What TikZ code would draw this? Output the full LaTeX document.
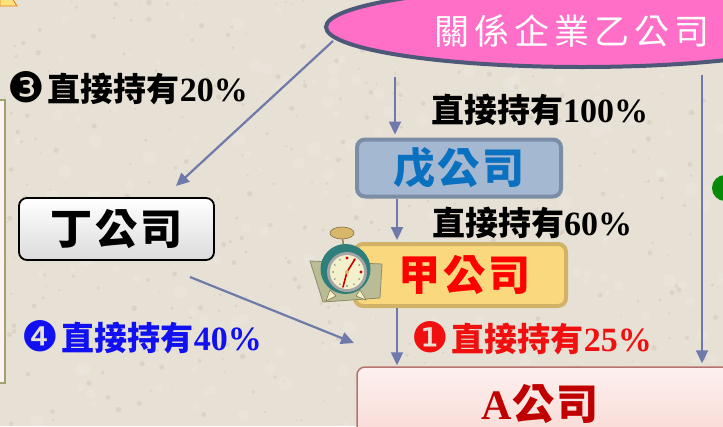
\documentclass[tikz,border=0pt]{standalone}
\usepackage{fontspec}
\usetikzlibrary{arrows.meta,shapes.geometric,calc}
\newfontfamily\cjk{Noto Sans CJK TC}
\newfontfamily\numfont{Liberation Serif}
\newfontfamily\dings{DejaVu Sans}

\definecolor{bgc}{HTML}{E7E0D4}
\definecolor{speck}{HTML}{CDC4B4}
\definecolor{arrowc}{HTML}{6E7AAB}
\definecolor{pinkfill}{HTML}{FF6EC7}
\definecolor{ellline}{HTML}{4E5878}
\definecolor{wufill}{HTML}{A4B8D2}
\definecolor{wuline}{HTML}{7C8DA6}
\definecolor{wutext}{HTML}{0A70C0}
\definecolor{jiafill}{HTML}{FAD97E}
\definecolor{jialine}{HTML}{D2B266}
\definecolor{aline}{HTML}{B5756E}
\definecolor{atop}{HTML}{FDF1EF}
\definecolor{abot}{HTML}{F5CBC4}
\definecolor{atext}{HTML}{C00000}
\definecolor{olive}{HTML}{9EA56A}
\definecolor{teal}{HTML}{2E7F7A}
\definecolor{padc}{HTML}{B9BC94}
\definecolor{padline}{HTML}{8A8C6A}
\definecolor{bellc}{HTML}{D9B76A}
\definecolor{facec}{HTML}{F3F0CC}
\definecolor{markgreen}{HTML}{078A07}
\definecolor{lblblue}{HTML}{1010F0}
\definecolor{lblred}{HTML}{F01010}

\tikzset{
  flow/.style={draw=arrowc, line width=2.2pt, -{Triangle[length=13pt,width=12pt]}},
  lbl/.style={inner sep=0pt, anchor=west},
  boxtext/.style={font=\cjk\bfseries\fontsize{42}{42}\selectfont},
  company/.style={rounded corners=8pt, inner sep=0pt}
}

% one percentage label: marker, Chinese words, number
\newcommand{\holdword}{{\cjk\bfseries\fontsize{33}{33}\selectfont 直接持有}}
\newcommand{\holding}[2]{\raisebox{-1pt}{\dings\fontsize{42}{42}\selectfont #1}\hspace{3pt}\holdword{\numfont\bfseries\fontsize{34}{34}\selectfont #2}}
\newcommand{\plainholding}[1]{\holdword{\numfont\bfseries\fontsize{34}{34}\selectfont #1}}

\begin{document}
\begin{tikzpicture}[x=1pt,y=-1pt]
\useasboundingbox (0,0) rectangle (723,426);
\clip (0,0) rectangle (723,426);

% paper background with a fine mottled texture
\fill[bgc] (0,0) rectangle (723,426);
\pgfmathsetseed{11}
\foreach \i in {1,...,420}{
  \pgfmathsetmacro{\px}{rnd*723}
  \pgfmathsetmacro{\py}{rnd*426}
  \pgfmathsetmacro{\pr}{0.6+rnd*2.2}
  \fill[speck, opacity=0.45] (\px,\py) circle [radius=\pr pt];
}
\foreach \i in {1,...,200}{
  \pgfmathsetmacro{\px}{rnd*723}
  \pgfmathsetmacro{\py}{rnd*426}
  \pgfmathsetmacro{\pr}{2+rnd*5}
  \fill[white, opacity=0.12] (\px,\py) circle [radius=\pr pt];
}

% corner pieces of neighbouring shapes
\fill[yellow!60!orange!50, draw=orange!60!brown, line width=0.8pt] (0,-2) -- (12,-2) -- (17,6) -- (0,6) -- cycle;
\draw[olive, line width=2.5pt, fill=red!5] (-20,100) rectangle (5,383);
\fill[markgreen] (725,188) circle [radius=13pt];

% parent company
\node[ellipse, draw=ellline, line width=4pt, fill=pinkfill, minimum width=512pt, minimum height=80pt, inner sep=0pt] (yi) at (582,27) {};
\node[inner sep=0pt, text=white, font=\cjk\fontsize{35}{35}\selectfont, anchor=west] (yiname) at (434,31) {關\hspace{5pt}係\hspace{5pt}企\hspace{5pt}業\hspace{5pt}乙\hspace{5pt}公\hspace{5pt}司};

% subsidiaries
\node[company, draw=wuline, line width=4pt, fill=wufill, minimum width=204pt, minimum height=57pt, boxtext, text=wutext] (wu) at (459,168) {戊\hspace{3pt}公\hspace{3pt}司};
\node[company, draw=jialine, line width=4pt, fill=jiafill, minimum width=211pt, minimum height=62pt, boxtext, text=red] (jia) at (460.5,275) {\hspace{8pt}甲\hspace{3pt}公\hspace{3pt}司};
\node[company, draw=black, line width=1.8pt, top color=white, bottom color=black!14, minimum width=195pt, minimum height=62pt, boxtext, text=black] (ding) at (116.5,229) {丁\hspace{3pt}公\hspace{3pt}司};
\node[company, draw=aline, line width=1.5pt, top color=atop, bottom color=abot, minimum width=400pt, minimum height=120pt] (abox) at (557,427) {};
\node[inner sep=0pt, text=atext, font=\fontsize{42}{42}\selectfont] (aname) at (540,404) {{\numfont\bfseries A}{\cjk\bfseries 公\hspace{2pt}司}};

% alarm clock on the 甲 box
\fill[padc, draw=padline, line width=0.8pt] (310,261) -- (382,264) -- (380,298) -- (323,302) -- cycle;
\draw[bellc!70!black, line width=1.5pt] (342,236) -- (344,248);
\fill[bellc, draw=bellc!60!black, line width=0.6pt] (342,233) ellipse [x radius=12pt, y radius=6pt];
\fill[facec, draw=bellc!60!black, line width=0.5pt] (330,290) -- (326,301) -- (336,296) -- cycle;
\fill[facec, draw=bellc!60!black, line width=0.5pt] (360,290) -- (366,300) -- (356,296) -- cycle;
\fill[teal] (345.5,269) circle [radius=25pt];
\fill[gray!70] (347,272) circle [radius=20pt];
\fill[facec] (347,272) circle [radius=17pt];
\foreach \a in {0,30,...,330}{
  \fill[black!60] ($(347,272)+(\a:14pt)$) circle [radius=0.8pt];
}
\fill[red!80!black] (347,258) circle [radius=1.6pt];
\fill[red!80!black] (361,272) circle [radius=1.6pt];
\draw[red!80!black, line width=1.6pt, line cap=round] (347,272) -- (355,259);
\draw[red!80!black, line width=1.6pt, line cap=round] (347,272) -- (343,287);
\fill[bellc] (347,272) circle [radius=2pt];

% ownership arrows
\coordinate (c1s) at (333,41);
\coordinate (c1e) at (176,186);
\coordinate (c4s) at (190,277);
\coordinate (c4e) at (354,343);
\coordinate (colwu) at (395,0);
\coordinate (coljia) at (397,0);
\coordinate (colright) at (702,0);
\draw[flow] (c1s) -- (c1e);
\draw[flow] (colwu |- 0,77) -- ($(colwu |- wu.north)+(0,-3)$);
\draw[flow] (coljia |- wu.south) -- ($(coljia |- jia.north)+(0,-2)$);
\draw[flow] (coljia |- jia.south) -- ($(coljia |- abox.north)+(0,-1)$);
\draw[flow] (colright |- 0,75) -- ($(colright |- abox.north)+(0,-3)$);
\draw[flow] (c4s) -- (c4e);

% holding labels
\node[lbl, text=black] (l3) at (7,88) {\holding{❸}{20\%}};
\node[lbl, text=black] (l100) at (431,110) {\plainholding{100\%}};
\node[lbl, text=black] (l60) at (432,223) {\plainholding{60\%}};
\node[lbl, text=lblblue] (l4) at (21,337) {\holding{❹}{40\%}};
\node[lbl, text=lblred] (l1) at (411,338) {\holding{❶}{25\%}};
\end{tikzpicture}
\end{document}
